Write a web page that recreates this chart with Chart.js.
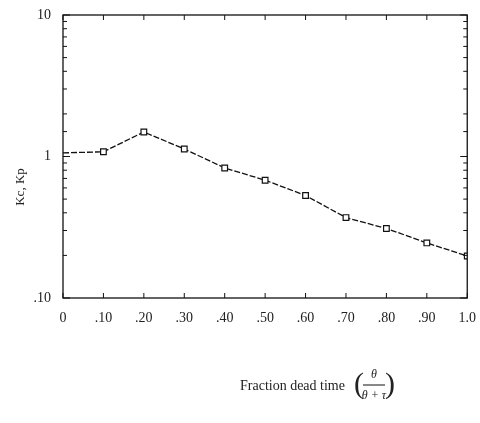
<!DOCTYPE html>
<html>
<head>
<meta charset="utf-8">
<script src="https://cdn.jsdelivr.net/npm/chart.js@4"></script>
<style>
  html, body { margin: 0; padding: 0; background: #fff; }
  #wrap { width: 480px; height: 423px; }
</style>
</head>
<body>
<div id="wrap"><canvas id="myChart" width="480" height="423"></canvas></div>
<script>
// fraction dead time, theta/(theta+tau)
const fraction = [0, 0.10, 0.20, 0.30, 0.40, 0.50, 0.60, 0.70, 0.80, 0.90, 1.0];
// Kc/Kp
const ratio = [1.06, 1.08, 1.49, 1.13, 0.83, 0.68, 0.53, 0.37, 0.31, 0.245, 0.198];
// first point is only where the line starts, no marker
const markerSize = [0, 4, 4, 4, 4, 4, 4, 4, 4, 4, 4];

const yLabels = { "0.1": ".10", "1": "1", "10": "10" };
const serif = '"Liberation Serif", "DejaVu Serif", serif';

let isDecade = (v) => Math.abs(Math.log10(v) - Math.round(Math.log10(v))) < 1e-6;

/* box, inward ticks and the axis titles */
const frame = {
  id: "frame",
  afterDraw(chart) {
    const { ctx, chartArea: a, scales } = chart;
    const x = scales.x, y = scales.y;
    ctx.save();
    ctx.strokeStyle = "#111";
    ctx.lineWidth = 1.3;
    ctx.strokeRect(a.left, a.top, a.right - a.left, a.bottom - a.top);

    ctx.lineWidth = 1;
    y.ticks.forEach(t => {
      const py = y.getPixelForValue(t.value);
      const len = isDecade(t.value) ? 7 : 4;
      ctx.beginPath();
      ctx.moveTo(a.left, py); ctx.lineTo(a.left + len, py);
      ctx.moveTo(a.right, py); ctx.lineTo(a.right - len, py);
      ctx.stroke();
    });
    x.ticks.forEach(t => {
      const px = x.getPixelForValue(t.value);
      ctx.beginPath();
      ctx.moveTo(px, a.bottom); ctx.lineTo(px, a.bottom - 5);
      ctx.moveTo(px, a.top); ctx.lineTo(px, a.top + 5);
      ctx.stroke();
    });

    ctx.fillStyle = "#222";
    ctx.textBaseline = "middle";

    // y title
    ctx.save();
    ctx.translate(21, 187);
    ctx.rotate(-Math.PI / 2);
    ctx.textAlign = "center";
    ctx.font = "13px " + serif;
    ctx.fillText("Kc, Kp", 0, 0);
    ctx.restore();

    // x title
    ctx.textAlign = "left";
    ctx.font = "14px " + serif;
    ctx.fillText("Fraction dead time", 240, 386);

    ctx.font = "30px " + serif;
    ctx.textAlign = "center";
    ctx.fillText("(", 359, 385);
    ctx.fillText(")", 390, 385);
    ctx.font = "italic 12px " + serif;
    ctx.fillText("θ", 374, 375);
    ctx.fillText("θ + τ", 374, 396);
    ctx.beginPath();
    ctx.moveTo(363, 385); ctx.lineTo(385, 385);
    ctx.stroke();
    ctx.restore();
  }
};

let plot = () => {
  const ctx = document.getElementById("myChart");
  const points = fraction.map((f, i) => ({ x: f, y: ratio[i] }));

  const config = {
    type: "line",
    data: {
      datasets: [
        {
          label: "Kc/Kp",
          data: points,
          borderColor: "#111",
          borderWidth: 1.3,
          borderDash: [6, 2],
          tension: 0,
          fill: false,
          pointStyle: "rect",
          pointRadius: markerSize,
          pointBackgroundColor: "#fff",
          pointBorderColor: "#111",
          pointBorderWidth: 1.2,
        }
      ]
    },
    options: {
      responsive: false,
      animation: false,
      layout: { padding: { left: 0, top: 15, right: 4, bottom: 0 } },
      plugins: { legend: { display: false }, tooltip: { enabled: false } },
      scales: {
        x: {
          type: "linear",
          min: 0,
          max: 1,
          afterFit: (s) => { s.height = 125; },
          grid: { display: false },
          border: { display: false },
          ticks: {
            stepSize: 0.1,
            color: "#222",
            padding: 4,
            maxRotation: 0,
            font: { family: serif, size: 14 },
            callback: (v) => {
              if (v === 0) return "0";
              if (Math.abs(v - 1) < 1e-9) return "1.0";
              return "." + Math.round(v * 100);
            }
          }
        },
        y: {
          type: "logarithmic",
          min: 0.1,
          max: 10,
          afterFit: (s) => { s.width = 63; },
          grid: { display: false },
          border: { display: false },
          ticks: {
            color: "#222",
            padding: 4,
            autoSkip: false,
            font: { family: serif, size: 14 },
            callback: (v) => {
              const key = String(Math.round(v * 1000) / 1000);
              return yLabels[key] !== undefined ? yLabels[key] : "";
            }
          }
        }
      }
    },
    plugins: [frame]
  };
  new Chart(ctx, config);
};

plot();
</script>
</body>
</html>
